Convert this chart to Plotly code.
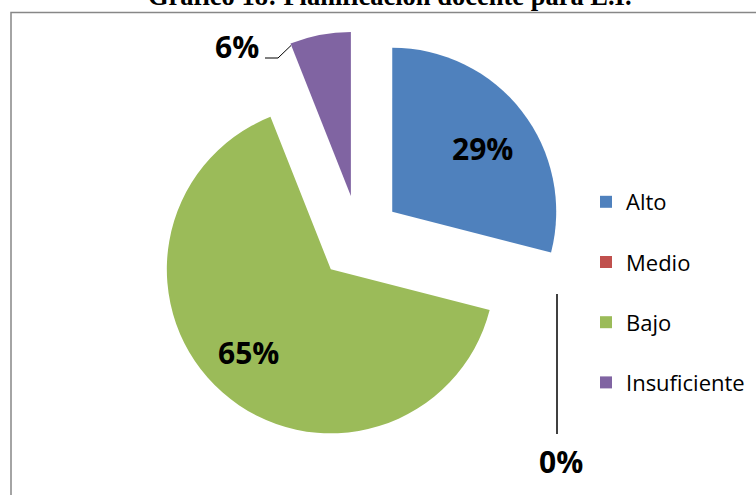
import plotly.graph_objects as go

# Data
categories = ["Alto", "Medio", "Bajo", "Insuficiente"]
percentages = [29, 0, 65, 6]
colors = ["#4F81BD", "#C0504D", "#9BBB59", "#8064A2"]
title_text = "Gráfico 18: Planificación docente para E.I."

W, H = 756, 495


def px(x):
    return x / W


def py(y):
    return 1 - y / H


# legend labels with a blank second line to mimic the wide legend spacing
legend_labels = [c + "<br> " for c in categories]

fig = go.Figure(
    go.Pie(
        labels=legend_labels,
        values=percentages,
        marker=dict(colors=colors, line=dict(width=0)),
        sort=False,
        direction="clockwise",
        rotation=0,
        pull=[0.258] * len(percentages),
        textinfo="none",
        domain=dict(x=[px(358.8 - 215), px(358.8 + 215)], y=[py(443.9), py(31.3)]),
        hoverinfo="label+percent",
        showlegend=True,
    )
)

label_font = dict(family="Open Sans", size=30, color="black", weight="bold")
# slice labels (positions as in the reference chart)
label_pos = {"Alto": (483, 149), "Medio": (561, 461), "Bajo": (248, 352), "Insuficiente": (237, 46)}
annotations = []
for cat, p in zip(categories, percentages):
    x, y = label_pos[cat]
    annotations.append(
        dict(
            text=f"{p}%", x=px(x), y=py(y), xref="paper", yref="paper",
            showarrow=False, xanchor="center", yanchor="middle", font=label_font,
        )
    )
# title (cut at the top, as in the reference)
annotations.append(
    dict(
        text="<b>" + title_text + "</b>", x=px(390), y=py(-4), xref="paper", yref="paper",
        showarrow=False, xanchor="center", yanchor="middle",
        font=dict(family="Liberation Serif", size=26.5, color="black"),
    )
)

shapes = [
    # chart area border
    dict(type="rect", xref="paper", yref="paper", x0=px(11), y0=py(H + 20), x1=px(W + 20), y1=py(12.5),
         line=dict(color="#878787", width=1.5), fillcolor="rgba(0,0,0,0)", layer="below"),
    # leader line for 6%
    dict(type="path", xref="paper", yref="paper",
         path=f"M {px(265)},{py(58)} L {px(278)},{py(58)} L {px(291)},{py(45.5)}",
         line=dict(color="black", width=1)),
    # leader line for 0%
    dict(type="line", xref="paper", yref="paper", x0=px(557), y0=py(294), x1=px(557), y1=py(434),
         line=dict(color="black", width=1.5)),
]

fig.update_layout(
    width=W, height=H,
    margin=dict(l=0, r=0, t=0, b=0),
    paper_bgcolor="white", plot_bgcolor="white",
    font=dict(family="Open Sans", color="black"),
    legend=dict(
        x=px(586), y=py(181), xanchor="left", yanchor="top",
        font=dict(family="Open Sans", size=22, color="black"),
        valign="top", bgcolor="rgba(0,0,0,0)", itemwidth=30,
    ),
    annotations=annotations,
    shapes=shapes,
)

fig.write_html(
    "out.html",
    config={"displayModeBar": False},
    post_script="document.body.style.margin='0';document.body.style.overflow='hidden';",
)
